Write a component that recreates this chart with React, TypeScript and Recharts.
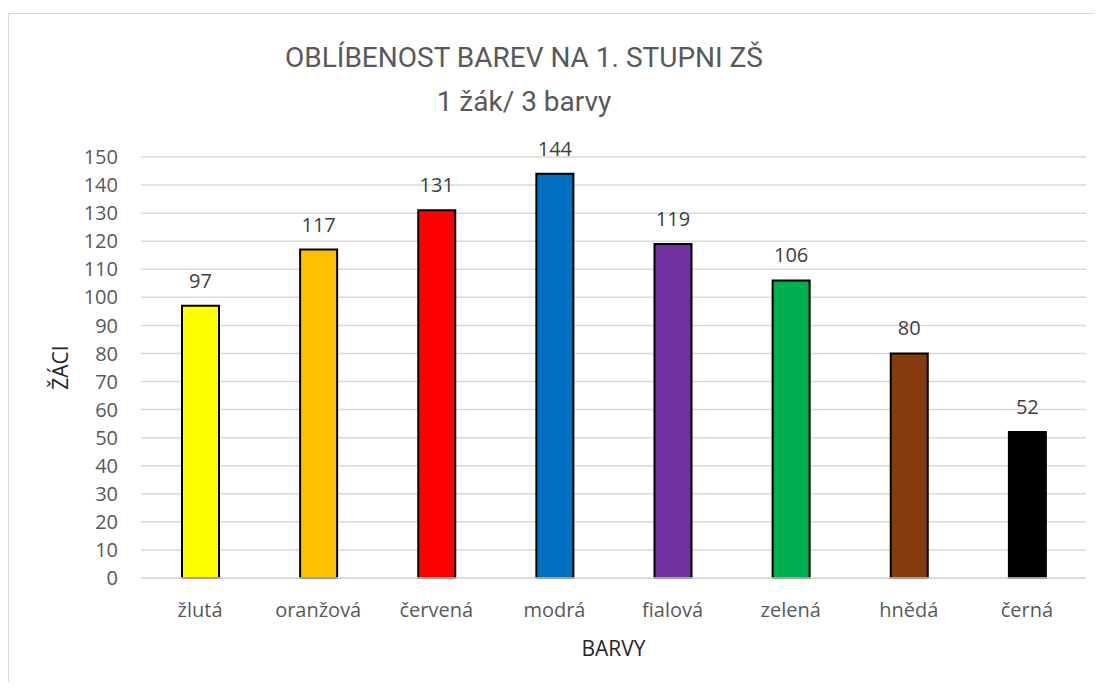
import { BarChart, Bar, CartesianGrid, XAxis, YAxis, LabelList, Label, Cell } from 'recharts';

const categories = ['žlutá', 'oranžová', 'červená', 'modrá', 'fialová', 'zelená', 'hnědá', 'černá'];
const pupils = [97, 117, 131, 144, 119, 106, 80, 52];
const barColors = ['#FFFF00', '#FFC000', '#FF0000', '#0070C0', '#7030A0', '#00B050', '#843C0C', '#000000'];
const yTicks = [0, 10, 20, 30, 40, 50, 60, 70, 80, 90, 100, 110, 120, 130, 140, 150];

const chartData = categories.map((name, i) => ({ name, value: pupils[i] }));

const font = '"Open Sans", sans-serif';

const titleLine = {
    position: 'absolute' as const,
    left: 0,
    width: 1030,
    textAlign: 'center' as const,
    color: '#595959',
    fontFamily: 'Roboto, sans-serif',
    fontSize: 28,
    lineHeight: '20px',
};

export default function App() {
    return (
        <div
            style={{
                position: 'relative',
                marginTop: 5,
                width: 1093,
                height: 668,
                borderTop: '1px solid #d9d9d9',
                borderLeft: '1px solid #d9d9d9',
                fontFamily: font,
                background: '#fff',
            }}
        >
            <div style={{ ...titleLine, top: 34 }}>OBLÍBENOST BAREV NA 1. STUPNI ZŠ</div>
            <div style={{ ...titleLine, top: 78 }}>1 žák/ 3 barvy</div>
            <div style={{ position: 'absolute', left: -1, top: -1 }}>
                <BarChart
                    width={1094}
                    height={669}
                    data={chartData}
                    margin={{ top: 144, right: 16, bottom: 24, left: 0 }}
                    barSize={37}
                >
                    <CartesianGrid vertical={false} stroke="#d9d9d9" strokeWidth={1.5} />
                    <XAxis
                        dataKey="name"
                        height={80}
                        axisLine={{ stroke: '#d9d9d9', strokeWidth: 1.5 }}
                        tickLine={false}
                        tickMargin={19}
                        tick={{ fill: '#595959', fontSize: 20, fontFamily: font }}
                    >
                        <Label
                            value="BARVY"
                            position="insideBottom"
                            offset={2}
                            style={{ fill: '#262626', fontSize: 21, fontFamily: font }}
                        />
                    </XAxis>
                    <YAxis
                        width={133}
                        domain={[0, 150]}
                        ticks={yTicks}
                        interval={0}
                        axisLine={false}
                        tickLine={false}
                        tickMargin={17}
                        tick={{ fill: '#595959', fontSize: 20, fontFamily: font }}
                    >
                        <Label
                            content={({ viewBox }: any) => {
                                const cx = viewBox.x + 52;
                                const cy = viewBox.y + viewBox.height / 2;
                                return (
                                    <text
                                        x={cx}
                                        y={cy}
                                        transform={`rotate(-90, ${cx}, ${cy})`}
                                        textAnchor="middle"
                                        dominantBaseline="central"
                                        fill="#262626"
                                        fontSize={21}
                                        fontFamily={font}
                                    >
                                        ŽÁCI
                                    </text>
                                );
                            }}
                        />
                    </YAxis>
                    <Bar dataKey="value" stroke="#000" strokeWidth={2} isAnimationActive={false}>
                        {chartData.map((d, i) => (
                            <Cell key={d.name} fill={barColors[i]} />
                        ))}
                        <LabelList
                            dataKey="value"
                            position="top"
                            offset={18}
                            style={{ fill: '#404040', fontSize: 20, fontFamily: font }}
                        />
                    </Bar>
                </BarChart>
            </div>
        </div>
    );
}
